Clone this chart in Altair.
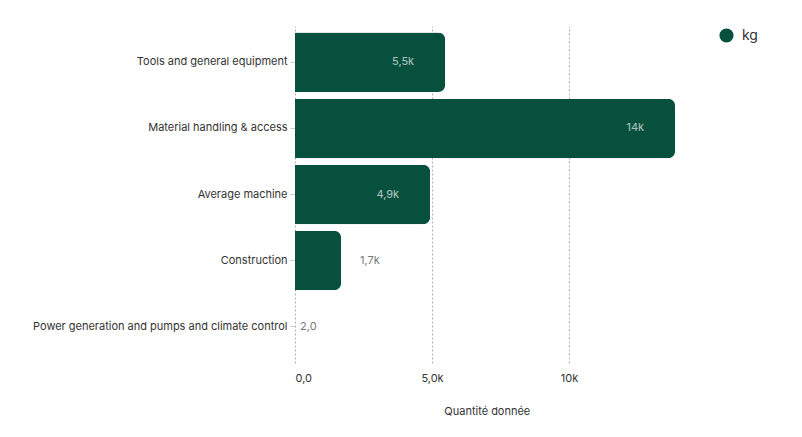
import altair as alt
import pandas as pd

categories = [
    "Tools and general equipment",
    "Material handling & access",
    "Average machine",
    "Construction",
    "Power generation and pumps and climate control",
]
values = [5480, 13870, 4930, 1680, 2.0]
labels = ["5,5k", "14k", "4,9k", "1,7k", "2,0"]
series = ["kg"] * 5
x_ticks = [0, 5000, 10000]

df = pd.DataFrame({"cat": categories, "value": values, "label": labels, "unit": series})

FONT = "Inter"
GREEN = "#06503d"
FS = 11

label_expr = "datum.value == 0 ? '0,0' : datum.value == 5000 ? '5,0k' : '10k'"

y_enc = alt.Y("cat:N", sort=categories, title=None,
              scale=alt.Scale(paddingInner=0.1, paddingOuter=0.1),
              axis=alt.Axis(domain=False, ticks=True, tickSize=5, tickColor="#cccccc",
                            labelPadding=3, labelFontSize=FS, labelColor="#333333",
                            labelFont=FONT, grid=False, labelLimit=400))
x_enc = alt.X("value:Q", title="Quantité donnée",
              scale=alt.Scale(domain=[0, 14000], nice=False),
              axis=alt.Axis(values=x_ticks, labelExpr=label_expr, domain=False, ticks=False,
                            grid=True, gridDash=[2, 2], gridColor="#b0b0b0",
                            labelPadding=10, labelFontSize=FS, labelColor="#333333",
                            labelFont=FONT, titleFont=FONT, titleFontSize=FS,
                            titleFontWeight="normal", titleColor="#333333", titlePadding=22))

bars = alt.Chart(df).mark_bar(cornerRadiusEnd=7, color=GREEN).encode(
    y=y_enc,
    x=x_enc,
    color=alt.Color("unit:N", scale=alt.Scale(range=[GREEN]), title=None,
                    legend=alt.Legend(orient="none", legendX=424, legendY=2, symbolType="circle",
                                      symbolSize=200, labelFontSize=14, labelFont=FONT,
                                      labelOffset=8, labelColor="#333333", symbolStrokeWidth=0)),
)

inside = alt.Chart(df).transform_filter("datum.value >= 3000").mark_text(
    align="right", dx=-31, font=FONT, fontSize=FS, color="#ffffff", opacity=0.68
).encode(y=alt.Y("cat:N", sort=categories), x="value:Q", text="label:N")

outside = alt.Chart(df).transform_filter("datum.value < 3000 && datum.value >= 100").mark_text(
    align="left", dx=19, font=FONT, fontSize=FS, color="#777777"
).encode(y=alt.Y("cat:N", sort=categories), x="value:Q", text="label:N")

outside_small = alt.Chart(df).transform_filter("datum.value < 100").mark_text(
    align="left", dx=5, font=FONT, fontSize=FS, color="#777777"
).encode(y=alt.Y("cat:N", sort=categories), x="value:Q", text="label:N")

chart = alt.layer(bars, inside, outside, outside_small).properties(
    width=383.6, height=337,
    autosize=alt.AutoSizeParams(type="none"),
    padding={"left": 287, "top": 18, "right": 110, "bottom": 70},
    background="#ffffff",
).configure_view(stroke=None)

chart.save("out.html", embed_options={"renderer": "svg", "actions": False})
